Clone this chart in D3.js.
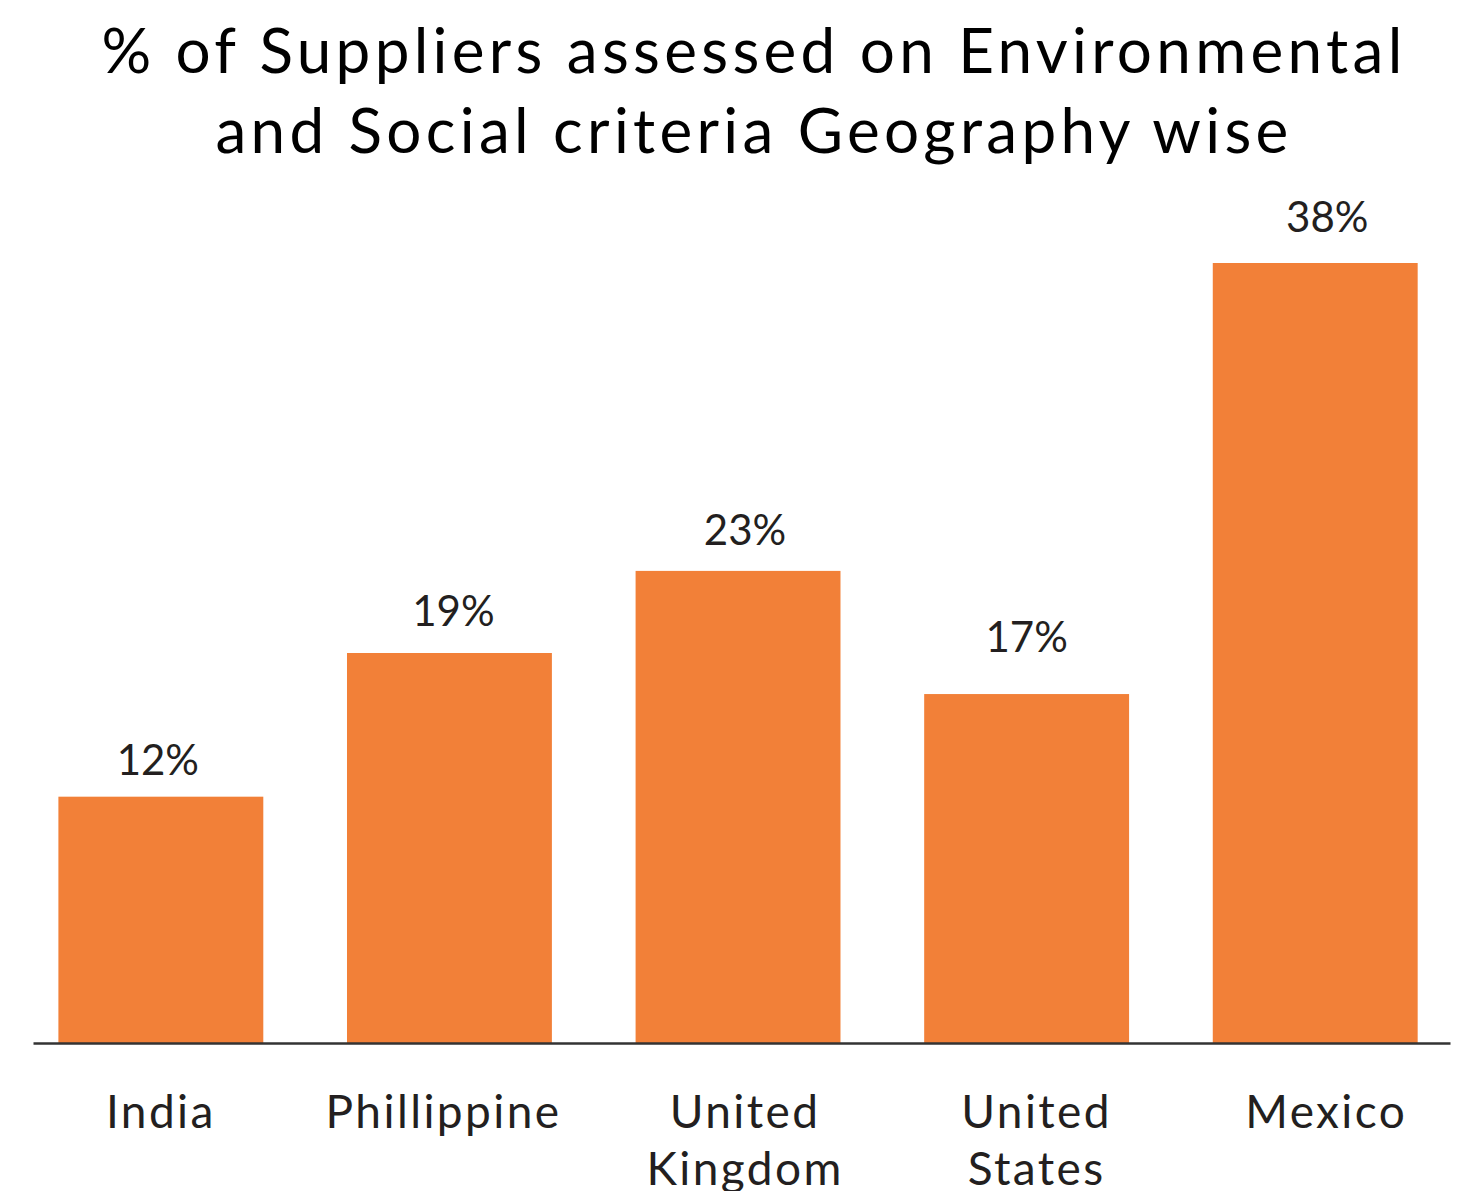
<!DOCTYPE html>
<html>
<head>
<meta charset="utf-8">
<script src="https://cdn.jsdelivr.net/npm/d3@7"></script>
<style>
  body { margin: 0; background: #fff; }
  svg text { font-family: Lato, "Noto Sans", sans-serif; }
</style>
</head>
<body>
<div id="chart"></div>
<script>
// chart data
var titleLines = ["% of Suppliers assessed on Environmental", "and Social criteria Geography wise"];
var countries = ["India", "Phillippine", "United Kingdom", "United States", "Mexico"];
var countryLabels = [["India"], ["Phillippine"], ["United", "Kingdom"], ["United", "States"], ["Mexico"]];
var shares = [12, 19, 23, 17, 38];

// hand placed label nudges, as in the original slide
var valueGap = [22, 27, 26, 42, 31];
var valueShift = [-3, 4, 7, 0, 12];
var nameShift = [0, -6, 7, 10, 11];

var width = 1459, height = 1191;
var baseY = 1043;

var svg = d3.select("#chart").append("svg")
  .attr("width", width)
  .attr("height", height);

var x = d3.scaleBand()
  .domain(countries)
  .range([33, 1450])
  .paddingInner(0.29)
  .paddingOuter(0.1)
  .align(0.44);

var y = d3.scaleLinear()
  .domain([0, 38])
  .range([baseY, 263]);

// title
svg.append("text")
  .attr("text-anchor", "middle")
  .attr("font-size", "62px")
  .attr("letter-spacing", "4.3px")
  .attr("fill", "#000")
  .selectAll("tspan")
  .data(titleLines)
  .enter()
  .append("tspan")
  .attr("x", 754)
  .attr("y", function(d, i) { return 73 + i * 80; })
  .text(function(d) { return d; });

// bars
svg.selectAll(".bar")
  .data(shares)
  .enter()
  .append("rect")
  .attr("class", "bar")
  .attr("x", function(d, i) { return x(countries[i]); })
  .attr("y", function(d) { return y(d); })
  .attr("width", x.bandwidth())
  .attr("height", function(d) { return baseY - y(d); })
  .attr("fill", "#f28038");

// value labels
svg.selectAll(".val")
  .data(shares)
  .enter()
  .append("text")
  .attr("class", "val")
  .attr("x", function(d, i) { return x(countries[i]) + x.bandwidth() / 2 + valueShift[i]; })
  .attr("y", function(d, i) { return y(d) - valueGap[i]; })
  .attr("text-anchor", "middle")
  .attr("font-size", "42px")
  .attr("fill", "#231f20")
  .text(function(d) { return d + "%"; });

// x axis, just the baseline and category names
var xAxis = svg.append("g")
  .attr("transform", "translate(0," + baseY + ")")
  .call(d3.axisBottom(x).tickSize(0).tickSizeOuter(0).tickFormat(""));

xAxis.select(".domain")
  .attr("stroke", "#333")
  .attr("stroke-width", 2.5);

xAxis.selectAll(".tick text").remove();

xAxis.selectAll(".tick")
  .append("text")
  .attr("text-anchor", "middle")
  .attr("font-size", "46px")
  .attr("letter-spacing", "2.4px")
  .attr("fill", "#231f20")
  .selectAll("tspan")
  .data(function(d) {
    var i = countries.indexOf(d);
    return countryLabels[i].map(function(t) { return { text: t, shift: nameShift[i] }; });
  })
  .enter()
  .append("tspan")
  .attr("x", function(d) { return d.shift; })
  .attr("y", function(d, i) { return 85 + i * 57; })
  .text(function(d) { return d.text; });
</script>
</body>
</html>
